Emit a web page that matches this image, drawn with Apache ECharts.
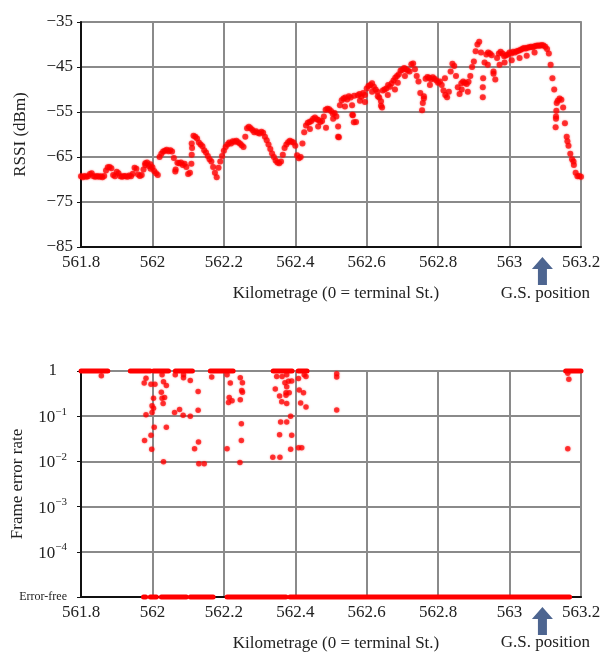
<!DOCTYPE html>
<html><head><meta charset="utf-8">
<script src="https://cdn.jsdelivr.net/npm/echarts@6/dist/echarts.min.js"></script>
<style>html,body{margin:0;padding:0;background:#fff}#c{width:603px;height:653px}</style>
</head><body><div id="c"></div>
<script>
// ---- data ----
const kmTicks = [561.8, 562, 562.2, 562.4, 562.6, 562.8, 563, 563.2];
const rssiTicks = [-85, -75, -65, -55, -45, -35];
const ferDecades = [-5, -4, -3, -2, -1, 0];
const rssiStartKm = 561.8, rssiStepKm = 0.005;
const rssiDbm = [
-69.3,-69.5,-69.2,-69.4,-69.3, -68.8,-68.6,-69.3,-69.4,-69.2,
-69.4,-69.3,-69.5,-69.2,-68.0, -67.3,-67.2,-67.5,-69.0,-69.3,
-68.3,-68.6,-69.3,-69.4,-69.2, -69.3,-69.4,-69.1,-69.3,-68.7,
-67.4,-67.6,-68.9,-69.2,-69.0, -67.8,-66.4,-66.2,-67.0,-67.6,
-67.3,-68.1,-68.6,-69.0,-65.0, -64.3,-63.8,-63.6,-63.4,-63.7,
-63.5,-63.8,-65.2,-67.8,-66.3, -66.4,-66.2,-66.8,-66.5,-67.2,
-68.8,-68.5,-62.0,-60.3,-60.5, -60.9,-61.8,-62.2,-62.6,-63.5,
-64.0,-64.8,-65.5,-66.0,-67.2, -68.5,-69.5,-67.4,-66.0,-64.8,
-63.6,-62.8,-62.2,-61.8,-62.0, -61.5,-61.6,-61.4,-61.7,-62.0,
-62.4,-62.8,-60.5,-58.6,-58.3, -58.6,-59.0,-59.5,-59.3,-59.6,
-59.8,-59.4,-59.6,-60.5,-61.3, -62.2,-63.2,-64.2,-65.0,-65.8,
-66.2,-66.4,-66.0,-64.5,-63.0, -62.2,-61.7,-61.4,-61.6,-61.8,
-62.5,-64.6,-65.3,-65.0,-62.0, -59.5,-58.0,-57.4,-57.2,-57.0,
-56.5,-56.2,-56.6,-56.8,-57.2, -57.0,-56.0,-54.5,-54.3,-54.4,
-54.8,-55.4,-55.2,-56.0,-60.5, -53.5,-52.4,-52.0,-51.8,-52.2,
-51.5,-51.8,-55.6,-51.4,-57.2, -51.3,-51.0,-51.6,-50.8,-51.2,
-49.8,-49.2,-49.0,-48.6,-49.4, -50.0,-50.5,-51.8,-53.6,-50.2,
-50.0,-49.8,-49.0,-49.4,-48.6, -48.0,-47.4,-47.0,-46.6,-45.8,
-45.6,-45.2,-45.5,-45.8,-46.0, -44.4,-44.2,-45.5,-47.0,-48.2,
-50.8,-54.6,-52.0,-47.6,-47.2, -47.4,-47.8,-47.3,-47.6,-48.0,
-48.5,-48.2,-49.0,-50.2,-51.2, -51.7,-50.5,-46.0,-44.3,-44.8,
-47.0,-49.5,-51.0,-48.6,-48.2, -48.5,-48.8,-48.3,-47.0,-45.0,
-43.8,-41.5,-40.0,-39.4,-41.8, -51.7,-44.0,-42.2,-41.8,-42.0,
-42.4,-46.5,-47.8,-43.0,-42.0, -41.6,-42.0,-42.6,-42.4,-42.2,
-41.8,-42.0,-41.6,-41.8,-41.5, -41.4,-41.2,-41.0,-40.8,-40.9,
-40.7,-40.6,-40.5,-40.6,-40.4, -40.3,-40.2,-40.3,-40.1,-40.2,
-40.5,-41.0,-42.0,-44.5,-47.5, -50.0,-56.0,-52.5,-52.0,-52.3,
-54.0,-57.5,-60.5,-62.5,-64.3, -65.5,-66.8,-68.5,-69.3,-69.2,
-69.4];
const rssiExtraKm = [561.980,561.994,562.064,562.109,562.110,562.111,562.441,562.464,562.486,562.506,
562.520,562.522,562.539,562.559,562.561,562.564,562.581,562.595,562.615,562.631,
562.640,562.643,562.659,562.679,562.687,562.707,562.757,562.760,562.777,562.819,
562.866,562.883,562.925,562.926,562.939,562.955,562.972,562.986,563.006,563.028,
563.048,563.070,563.129,563.130,563.131,563.132,563.162,563.179];
const rssiExtraDbm = [-66.8,-66.6,-68.2,-66.5,-64.5,-63.0,-58.8,-58.2,-58.5,-56.5,
-58.2,-60.6,-53.8,-53.5,-55.7,-57.3,-52.5,-52.8,-50.5,-51.5,
-52.6,-54.0,-51.2,-50.0,-48.5,-47.0,-53.0,-51.5,-49.0,-47.5,
-50.0,-50.5,-49.5,-47.5,-44.5,-46.0,-44.5,-44.0,-43.5,-43.0,
-42.5,-41.8,-58.4,-56.5,-54.7,-53.0,-61.5,-66.0];
const ferKm = [561.857,561.977,561.982,561.996,562.007,562.027,562.031,562.039,562.025,562.003,
562.027,562.034,562.030,561.999,562.003,561.999,561.982,562.062,562.076,562.086,
562.106,562.128,562.128,562.106,562.064,562.087,562.087,562.005,562.039,561.996,
561.978,562.129,561.998,562.118,562.031,562.130,562.145,562.166,562.209,562.218,
562.215,562.223,562.213,562.246,562.252,562.250,562.252,562.246,562.249,562.249,
562.209,562.245,562.348,562.363,562.376,562.371,562.381,562.390,562.376,562.374,
562.344,562.356,562.374,562.362,562.376,562.409,562.411,562.423,562.415,562.430,
562.425,562.430,562.516,562.516,562.516,562.387,562.359,562.376,562.356,562.390,
562.387,562.409,562.418,562.337,562.357,563.163,563.166,563.163,562.383];
const ferRate = [0.79,0.54,0.69,0.51,0.51,0.83,0.58,0.48,0.34,0.25,
0.25,0.26,0.19,0.17,0.15,0.12,0.107,0.12,0.14,0.105,
0.10,0.35,0.135,0.62,0.83,0.83,0.71,0.057,0.057,0.038,
0.029,0.027,0.0186,0.019,0.0098,0.0089,0.0089,0.74,0.83,0.54,
0.26,0.22,0.20,0.71,0.55,0.37,0.34,0.23,0.068,0.029,
0.019,0.0095,0.76,0.76,0.83,0.55,0.59,0.60,0.45,0.33,
0.40,0.28,0.29,0.21,0.19,0.68,0.38,0.33,0.195,0.16,
0.83,0.76,0.87,0.74,0.138,0.10,0.074,0.074,0.039,0.038,
0.0186,0.020,0.020,0.0123,0.0123,0.89,0.66,0.019,0.33];
const ferOneRanges = [[561.800,561.875],[561.938,561.994],[562.003,562.045],[562.064,562.112],
  [562.162,562.226],[562.338,562.391],[562.408,562.433],[563.157,563.200]];
const ferFreeRanges = [[561.975,561.981],[561.994,562.011],[562.025,562.095],[562.106,562.170],
  [562.209,562.374],[562.385,563.168]];
const errorFreeLevel = 1e-5;
const allFramesLost = 1;
const gsPositionKm = 563.092;

// ---- chart ----
const F = '"Liberation Serif", "DejaVu Serif", serif';
const TXT = '#222';
const gridColor = '#8a8a8a';
const chart = echarts.init(document.getElementById('c'), null, {renderer: 'canvas'});

const rssiMain = rssiDbm.map((v, i) => [+(rssiStartKm + i * rssiStepKm).toFixed(3), v]);
const rssiExtra = rssiExtraKm.map((k, i) => [k, rssiExtraDbm[i]]);
const ferPts = ferKm.map((k, i) => [k, ferRate[i]]);
const bands = (ranges, level) => ranges.map(r => ({
  type: 'line', xAxisIndex: 1, yAxisIndex: 1, data: [[r[0], level], [r[1], level]],
  symbol: 'none', clip: false, silent: true, z: 4, animation: false,
  lineStyle: {color: '#ff0000', width: 5, cap: 'round'}
}));
const dotStyle = {color: 'rgba(255,0,0,0.9)', shadowBlur: 2, shadowColor: 'rgba(255,0,0,0.6)'};

const xAxisFor = gi => ({
  type: 'value', gridIndex: gi, min: kmTicks[0], max: kmTicks[kmTicks.length - 1],
  interval: +(kmTicks[1] - kmTicks[0]).toFixed(1),
  axisLine: {show: true, onZero: false, lineStyle: {color: '#111', width: 2}},
  axisTick: {show: false},
  splitLine: {show: true, lineStyle: {color: gridColor, width: 2}},
  axisLabel: {fontFamily: F, fontSize: 17, color: TXT, margin: 7,
    formatter: v => String(parseFloat(v.toFixed(1)))},
  name: 'Kilometrage (0 = terminal St.)', nameLocation: 'middle', nameGap: 38, nameMoveOverlap: false,
  nameTextStyle: {fontFamily: F, fontSize: 17, color: TXT, padding: [0, 0, 0, 10]}
});

const option = {
  animation: false,
  backgroundColor: '#fff',
  grid: [
    {left: 81, right: 22, top: 22, height: 225, show: true, borderColor: '#555', borderWidth: 1.5,
     containLabel: false, outerBoundsMode: 'none'},
    {left: 81, right: 22, top: 371, height: 226, show: true, borderColor: '#222', borderWidth: 1.5,
     containLabel: false, outerBoundsMode: 'none'}
  ],
  xAxis: [xAxisFor(0), xAxisFor(1)],
  yAxis: [
    {type: 'value', gridIndex: 0, min: rssiTicks[0], max: rssiTicks[rssiTicks.length - 1],
     interval: rssiTicks[1] - rssiTicks[0],
     axisLine: {show: true, lineStyle: {color: '#111', width: 2}},
     axisTick: {show: true, length: 4, lineStyle: {color: '#111'}},
     splitLine: {show: true, lineStyle: {color: gridColor, width: 2}},
     axisLabel: {fontFamily: F, fontSize: 17, color: TXT, margin: 8,
       formatter: v => String(v).replace('-', '\u2212')},
     name: 'RSSI (dBm)', nameLocation: 'middle', nameGap: 52, nameRotate: 90, nameMoveOverlap: false,
     nameTextStyle: {fontFamily: F, fontSize: 17, color: TXT}},
    {type: 'log', logBase: 10, gridIndex: 1,
     min: Math.pow(10, ferDecades[0]), max: Math.pow(10, ferDecades[ferDecades.length - 1]),
     axisLine: {show: true, lineStyle: {color: '#111', width: 2}},
     axisTick: {show: true, length: 4, lineStyle: {color: '#111'}},
     splitLine: {show: true, lineStyle: {color: gridColor, width: 2}},
     axisLabel: {margin: 14,
       formatter: v => {
         const e = Math.round(Math.log10(v));
         if (e === 0) return '{one|1}';
         if (e <= ferDecades[0]) return '{ef|Error-free}';
         return '{b|10}{s|\u2212' + (-e) + '}';
       },
       rich: {
         one: {fontFamily: F, fontSize: 17, color: TXT, padding: [0, 10, 0, 0]},
         ef: {fontFamily: F, fontSize: 12, color: TXT},
         b: {fontFamily: F, fontSize: 17, color: TXT, verticalAlign: 'bottom'},
         s: {fontFamily: F, fontSize: 11, color: TXT, verticalAlign: 'bottom', padding: [0, 0, 9, 0]}
       }},
     name: 'Frame error rate', nameLocation: 'middle', nameGap: 55, nameRotate: 90, nameMoveOverlap: false,
     nameTextStyle: {fontFamily: F, fontSize: 17, color: TXT}}
  ],
  series: [
    {type: 'scatter', xAxisIndex: 0, yAxisIndex: 0, data: rssiMain, symbolSize: 6,
     itemStyle: dotStyle, silent: true},
    {type: 'scatter', xAxisIndex: 0, yAxisIndex: 0, data: rssiExtra, symbolSize: 6,
     itemStyle: dotStyle, silent: true},
    ...bands(ferOneRanges, allFramesLost),
    ...bands(ferFreeRanges, errorFreeLevel),
    {type: 'scatter', xAxisIndex: 1, yAxisIndex: 1, data: ferPts, symbolSize: 5.5, clip: false,
     itemStyle: dotStyle, silent: true, z: 5}
  ]
};
chart.setOption(option);

const gx = chart.convertToPixel({xAxisIndex: 0}, gsPositionKm);
const arrow = y => ({
  type: 'polygon', x: gx, y: y, silent: true,
  shape: {points: [[0, 0], [10.5, 12], [4.5, 12], [4.5, 28], [-4.5, 28], [-4.5, 12], [-10.5, 12]]},
  style: {fill: '#4d6590'}
});
const gsText = y => ({
  type: 'text', x: gx + 3, y: y, silent: true,
  style: {text: 'G.S. position', font: '17px ' + F, fill: TXT,
          textAlign: 'center', textVerticalAlign: 'middle', align: 'center', verticalAlign: 'middle'}
});
chart.setOption({graphic: [arrow(257), arrow(607), gsText(294), gsText(643)]});
</script>
</body></html>
